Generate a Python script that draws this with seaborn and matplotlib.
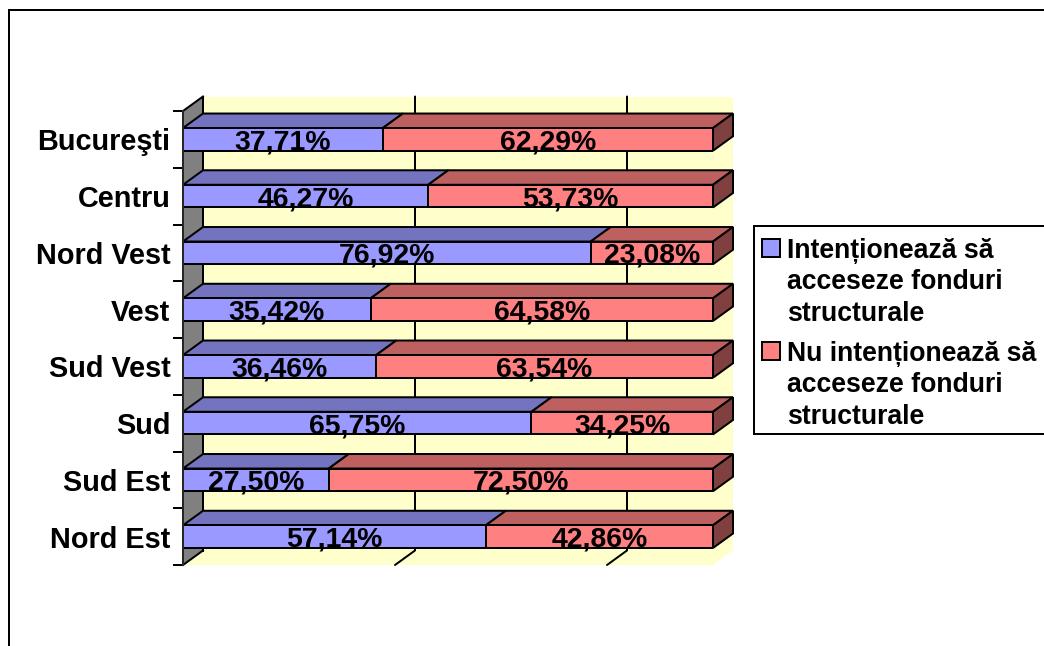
import matplotlib
matplotlib.use('Agg')
import matplotlib.pyplot as plt
from matplotlib.lines import Line2D
from matplotlib.patches import Polygon, Rectangle
from matplotlib.legend_handler import HandlerPatch
import numpy as np
import pandas as pd
import seaborn as sns

regions = ['Bucureşti', 'Centru', 'Nord Vest', 'Vest', 'Sud Vest', 'Sud', 'Sud Est', 'Nord Est']
intend = [37.71, 46.27, 76.92, 35.42, 36.46, 65.75, 27.50, 57.14]
not_intend = [62.29, 53.73, 23.08, 64.58, 63.54, 34.25, 72.50, 42.86]
series_names = ['Intenționează să\nacceseze fonduri\nstructurale',
                'Nu intenționează să\nacceseze fonduri\nstructurale']
grid_ticks = [40, 80]

W, H = 1044, 646
PX = 0.72  # points per pixel at dpi 100
BLUE, BLUE_TOP = '#9999FF', '#7373BF'
RED, RED_TOP, RED_SIDE = '#FF8080', '#BF6060', '#804040'
WALL, SIDE_WALL = '#FFFFCC', '#808080'
BAR_W = 0.4
LW = 2 * PX

sns.set_theme(style='white')
plt.rcParams['font.family'] = ['Liberation Sans', 'DejaVu Sans']
plt.rcParams['font.weight'] = 'bold'

df = pd.DataFrame({'region': regions, 'intend': intend, 'not_intend': not_intend})

fig = plt.figure(figsize=(W / 100, H / 100), dpi=100, facecolor='white')
ax = fig.add_axes([183 / W, 1 - 565 / H, 530 / W, 454 / H])
ax.patch.set_visible(False)

sns.barplot(data=df, x='intend', y='region', orient='h', color=BLUE, saturation=1, width=BAR_W,
            edgecolor='black', linewidth=LW, ax=ax, zorder=3)
sns.barplot(data=df, x='not_intend', y='region', orient='h', color=RED, saturation=1, width=BAR_W,
            left=df['intend'], edgecolor='black', linewidth=LW, ax=ax, zorder=3)

ax.set_xlim(0, 100)
ax.set_ylim(len(regions) - 0.5, -0.5)

# depth of the fake 3d box, in data units
dx = 20 / 530 * 100
dy = 14.5 / (454 / len(regions))
y_top, y_bot = -0.5, len(regions) - 0.5


def face(points, color, zorder=1, edge='none'):
    ax.add_patch(Polygon(points, closed=True, facecolor=color, edgecolor=edge, linewidth=LW,
                         clip_on=False, zorder=zorder, joinstyle='miter'))


# walls and floor
face([(dx, y_top - dy), (100 + dx, y_top - dy), (100 + dx, y_bot - dy), (dx, y_bot - dy)], WALL)
face([(0, y_bot), (100, y_bot), (100 + dx, y_bot - dy), (dx, y_bot - dy)], WALL)
face([(0, y_top), (dx, y_top - dy), (dx, y_bot - dy), (0, y_bot)], SIDE_WALL, zorder=1.5, edge='none')
for xs, ys in [([dx, dx], [y_top - dy, y_bot - dy]), ([0, dx], [y_top, y_top - dy]), ([0, dx], [y_bot, y_bot - dy])]:
    ax.plot(xs, ys, color='black', lw=LW, clip_on=False, zorder=2, solid_capstyle='projecting')

for t in grid_ticks:
    ax.plot([t, t + dx, t + dx], [y_bot, y_bot - dy, y_top - dy], color='black', lw=LW,
            clip_on=False, zorder=2)

# top and end faces of the bars
for i in range(len(regions)):
    top = i - BAR_W / 2
    bottom = i + BAR_W / 2
    split = intend[i]
    face([(0, top), (split, top), (split + dx, top - dy), (dx, top - dy)], BLUE_TOP, 2.5, 'black')
    face([(split, top), (100, top), (100 + dx, top - dy), (split + dx, top - dy)], RED_TOP, 2.5, 'black')
    face([(100, top), (100 + dx, top - dy), (100 + dx, bottom - dy), (100, bottom)], RED_SIDE, 2.5, 'black')

for container, vals in zip(ax.containers, [intend, not_intend]):
    anns = ax.bar_label(container, labels=[f'{v:.2f}%'.replace('.', ',') for v in vals], label_type='center',
                        fontsize=20.4, fontweight='bold', color='black', zorder=6)
    for a in anns:
        a.xyann = (0, -3 * PX)

# axis
sns.despine(ax=ax, left=False, top=True, right=True, bottom=True)
ax.spines['left'].set_linewidth(LW)
ax.spines['left'].set_zorder(4)
ax.set_xticks([])
ax.set_xlabel('')
ax.set_ylabel('')
ax.set_yticks(np.arange(-0.5, len(regions)), minor=True)
ax.tick_params(axis='y', which='major', length=0, pad=12.5 * PX, labelsize=20.8)
ax.tick_params(axis='y', which='minor', left=True, length=10 * PX, width=LW, color='black')
for lab in ax.get_yticklabels():
    lab.set_fontweight('bold')
    lab.set_color('black')


def first_line_patch(legend, orig_handle, xdescent, ydescent, width, height, fontsize):
    # excel puts the key next to the first text line
    return Rectangle((-xdescent, -ydescent + 25), width, height)


# legend box drawn by hand, the padding is uneven and it runs off the right edge
fig.add_artist(Rectangle((753.5 / W, 1 - 433.5 / H), 300 / W, 207.5 / H, transform=fig.transFigure,
                         facecolor='white', edgecolor='black', linewidth=LW))

handles = [Rectangle((0, 0), 1, 1, facecolor=BLUE, edgecolor='black', linewidth=LW),
           Rectangle((0, 0), 1, 1, facecolor=RED, edgecolor='black', linewidth=LW)]
leg = fig.legend(handles, series_names, loc='upper left', bbox_to_anchor=(762 / W, 1 - 237.5 / H),
                 borderaxespad=0, frameon=False,
                 prop={'family': 'Liberation Sans', 'weight': 'bold', 'size': 19.2}, handlelength=0.67,
                 handleheight=0.67, handletextpad=0.26, labelspacing=0.52, borderpad=0,
                 handler_map={Rectangle: HandlerPatch(patch_func=first_line_patch)})
for txt in leg.get_texts():
    txt.set_color('black')
    txt.set_linespacing(1.28)

# chart area border, runs off the picture on the right and at the bottom
fig.add_artist(Line2D([9 / W, 9 / W, 1], [0, 1 - 10 / H, 1 - 10 / H], color='black', lw=LW,
                      solid_joinstyle='miter'))

fig.savefig('out.png', dpi=100)
